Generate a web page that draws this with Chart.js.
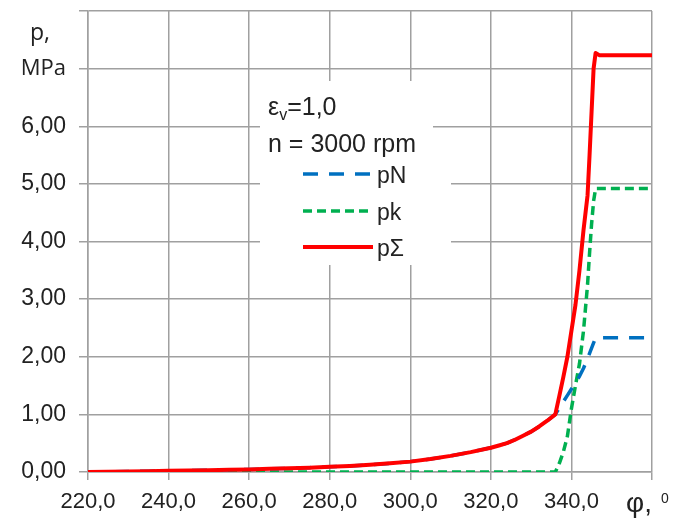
<!DOCTYPE html>
<html>
<head>
<meta charset="utf-8">
<script src="https://cdn.jsdelivr.net/npm/chart.js@4/dist/chart.umd.min.js"></script>
<style>
  html, body { margin: 0; padding: 0; background: #ffffff; }
  #wrap { width: 674px; height: 520px; }
</style>
</head>
<body>
<div id="wrap"><canvas id="c" width="674" height="520"></canvas></div>
<script>
// ---- data ----
const angles = [220,225,230,235,240,245,250,255,260,265,270,275,280,285,290,295,300,305,310,315,320,322,324,326,328,330,332,334,336,337,338,339,340,341,342,343,344,344.5,345,345.5,346,347,350,355,360];
const pN     = [0.00,0.005,0.01,0.015,0.02,0.025,0.03,0.04,0.045,0.055,0.065,0.075,0.09,0.105,0.125,0.15,0.18,0.225,0.28,0.345,0.42,0.46,0.50,0.56,0.63,0.70,0.79,0.89,1.00,1.11,1.22,1.33,1.44,1.55,1.66,1.80,1.97,2.06,2.15,2.24,2.33,2.33,2.33,2.33,2.33];
const pk     = [0,0,0,0,0,0,0,0,0,0,0,0,0,0,0,0,0,0,0,0,0,0,0,0,0,0,0,0,0,0.15,0.35,0.62,1.10,1.50,1.88,2.45,3.25,3.80,4.30,4.70,4.92,4.92,4.92,4.92,4.92];
const pSum   = [0.00,0.005,0.01,0.015,0.02,0.025,0.03,0.04,0.045,0.055,0.065,0.075,0.09,0.105,0.125,0.15,0.18,0.225,0.28,0.345,0.42,0.46,0.50,0.56,0.63,0.70,0.79,0.89,1.00,1.32,1.65,2.00,2.45,2.90,3.50,4.20,4.80,5.50,6.25,7.00,7.27,7.23,7.23,7.23,7.23];
const seriesNames = ['pN', 'pk', 'p\u03A3'];
const xTicks = [220,240,260,280,300,320,340,360];
const yTicks = [0,1,2,3,4,5,6,7,8];
const noteLine1 = ['\u03B5', 'v', '=1,0'];
const noteLine2 = 'n = 3000 rpm';
const yUnit = ['p,', 'MPa'];
const xUnit = ['\u03C6,', '0'];

const toXY = (vals) => angles.map((a, i) => ({ x: a, y: vals[i] }));

const colors = { pN: '#0070C0', pk: '#00B050', pSum: '#FF0000' };
const gridColor = '#a0a0a0';
const textColor = '#222222';
const tickFamily = "'Liberation Sans', Arial, sans-serif";
const textFamily = "'Liberation Sans', Arial, sans-serif";

const datasets = [
  { label: seriesNames[0], data: toXY(pN), borderColor: colors.pN, borderWidth: 3.5, borderDash: [15, 11], order: 1 },
  { label: seriesNames[1], data: toXY(pk), borderColor: colors.pk, borderWidth: 3.5, borderDash: [9, 5], order: 2 },
  { label: seriesNames[2], data: toXY(pSum), borderColor: colors.pSum, borderWidth: 4, borderDash: [], order: 0 }
];

const decor = {
  id: 'decor',
  beforeDatasetsDraw(chart) {
    const ctx = chart.ctx;
    ctx.save();
    // white legend / note box
    ctx.fillStyle = '#ffffff';
    ctx.fillRect(260, 81, 173, 74);
    ctx.fillRect(260, 155, 191, 110);
    ctx.fillStyle = textColor;
    ctx.textBaseline = 'alphabetic';
    ctx.textAlign = 'left';
    // note line 1: eps_v=1,0
    let x = 268;
    ctx.font = '25px ' + textFamily;
    ctx.fillText(noteLine1[0], x, 115);
    x += ctx.measureText(noteLine1[0]).width;
    ctx.font = '16px ' + textFamily;
    ctx.fillText(noteLine1[1], x, 120);
    x += ctx.measureText(noteLine1[1]).width;
    ctx.font = '25px ' + textFamily;
    ctx.fillText(noteLine1[2], x, 115);
    // note line 2
    ctx.font = '25px ' + textFamily;
    ctx.fillText(noteLine2, 268, 152);
    // legend entries
    const rows = [174, 211, 247];
    const bases = [183, 220, 256];
    chart.data.datasets.forEach((ds, i) => {
      ctx.beginPath();
      ctx.strokeStyle = ds.borderColor;
      ctx.lineWidth = ds.borderWidth;
      ctx.setLineDash(ds.borderDash || []);
      ctx.moveTo(303, rows[i]);
      ctx.lineTo(373, rows[i]);
      ctx.stroke();
      ctx.setLineDash([]);
      ctx.font = '23px ' + textFamily;
      ctx.fillStyle = textColor;
      ctx.fillText(ds.label, 377, bases[i]);
    });
    ctx.restore();
  },
  afterDraw(chart) {
    const ctx = chart.ctx;
    ctx.save();
    ctx.fillStyle = textColor;
    ctx.textAlign = 'center';
    ctx.textBaseline = 'alphabetic';
    ctx.font = "23px 'Open Sans', " + textFamily;
    ctx.fillText(yUnit[0], 40, 40);
    ctx.textAlign = 'left';
    ctx.font = '28px ' + textFamily;
    ctx.fillText(xUnit[0], 626, 512);
    ctx.font = '14px ' + textFamily;
    ctx.fillText(xUnit[1], 661, 503);
    ctx.restore();
  }
};

new Chart(document.getElementById('c'), {
  type: 'line',
  data: { datasets },
  options: {
    responsive: false,
    devicePixelRatio: 1,
    animation: false,
    layout: { padding: { left: 0, top: 11, right: 22, bottom: 0 } },
    elements: { point: { radius: 0 }, line: { tension: 0, borderCapStyle: 'butt', borderJoinStyle: 'round' } },
    plugins: { legend: { display: false }, tooltip: { enabled: false }, title: { display: false } },
    scales: {
      x: {
        type: 'linear', min: 220, max: 360,
        afterBuildTicks: (s) => { s.ticks = xTicks.map(v => ({ value: v })); },
        afterFit: (s) => { s.height = 48; s.paddingLeft = 0; s.paddingRight = 0; },
        grid: { color: gridColor, lineWidth: 1.5, tickLength: 8, drawTicks: true },
        border: { color: gridColor, width: 1.5 },
        ticks: {
          color: textColor, padding: 9, maxRotation: 0, autoSkip: false,
          font: { family: tickFamily, size: 22 },
          callback: (v) => v === 360 ? '' : v.toFixed(1).replace('.', ',')
        }
      },
      y: {
        type: 'linear', min: 0, max: 8,
        afterBuildTicks: (s) => { s.ticks = yTicks.map(v => ({ value: v })); },
        afterFit: (s) => { s.width = 88; s.paddingTop = 0; s.paddingBottom = 0; },
        grid: { color: gridColor, lineWidth: 1.5, tickLength: 9, drawTicks: true },
        border: { color: gridColor, width: 1.5 },
        ticks: {
          color: textColor, padding: 13, autoSkip: false,
          font: (c) => (c.tick && c.tick.value === 7)
            ? { family: "'Open Sans', " + textFamily, size: 22 }
            : { family: tickFamily, size: 23 },
          callback: (v) => v === 7 ? yUnit[1] : (v === 8 ? '' : v.toFixed(2).replace('.', ','))
        }
      }
    }
  },
  plugins: [decor]
});
</script>
</body>
</html>
